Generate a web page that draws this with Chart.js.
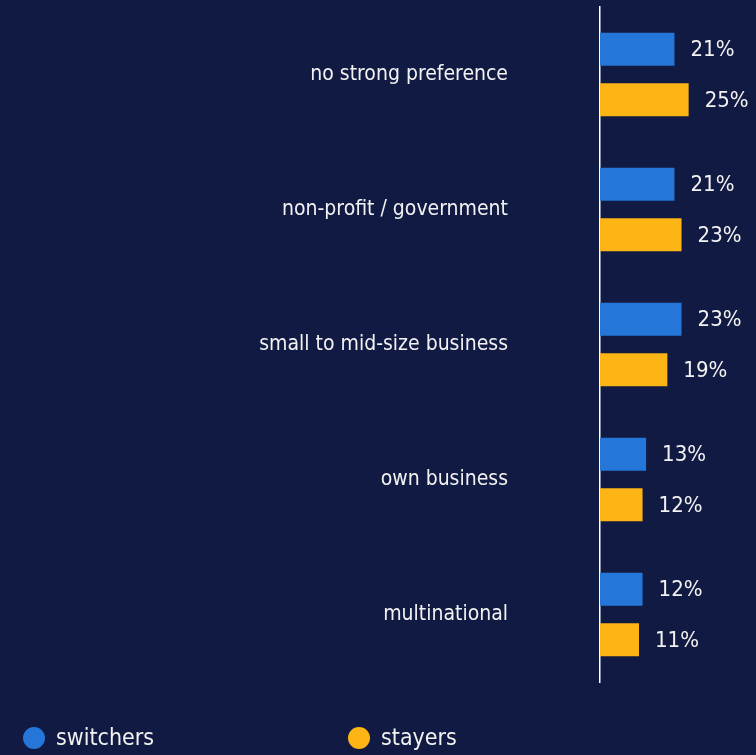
<!DOCTYPE html>
<html>
<head>
<meta charset="utf-8">
<script src="https://cdn.jsdelivr.net/npm/chart.js@4/dist/chart.umd.min.js"></script>
<style>
  html, body { margin: 0; padding: 0; background: #111a42; }
  #wrap { position: relative; width: 756px; height: 755px; }
</style>
</head>
<body>
<div id="wrap"><canvas id="chart"></canvas></div>
<script>
// Preferred employer type, share of respondents (%)
const categories = [
  'no strong preference',
  'non-profit / government',
  'small to mid-size business',
  'own business',
  'multinational'
];
const switchers = [21, 21, 23, 13, 12];
const stayers = [25, 23, 19, 12, 11];
const seriesNames = ['switchers', 'stayers'];
const seriesColors = ['#2477d9', '#fdb515'];

const FONT = '"DejaVu Sans Condensed", "DejaVu Sans", sans-serif';
const TEXT = '#f2f2f2';

// Percent labels at the end of each bar
const valueLabels = {
  id: 'valueLabels',
  afterDatasetsDraw(chart) {
    const ctx = chart.ctx;
    ctx.save();
    ctx.fillStyle = TEXT;
    ctx.font = '22px ' + FONT;
    ctx.textAlign = 'left';
    ctx.textBaseline = 'middle';
    chart.data.datasets.forEach((ds, i) => {
      chart.getDatasetMeta(i).data.forEach((bar, j) => {
        ctx.fillText(ds.data[j] + '%', bar.x + 16, bar.y + 1);
      });
    });
    ctx.restore();
  }
};

// Legend row along the bottom edge
const bottomLegend = {
  id: 'bottomLegend',
  afterDraw(chart) {
    const ctx = chart.ctx;
    const y = 739;
    const starts = [23, 348];
    ctx.save();
    ctx.font = '23px ' + FONT;
    ctx.textBaseline = 'middle';
    ctx.textAlign = 'left';
    chart.data.datasets.forEach((ds, i) => {
      const x = starts[i];
      ctx.fillStyle = ds.backgroundColor;
      ctx.beginPath();
      ctx.arc(x + 11, y - 1, 11, 0, Math.PI * 2);
      ctx.fill();
      ctx.fillStyle = TEXT;
      ctx.fillText(ds.label, x + 33, y);
    });
    ctx.restore();
  }
};

new Chart(document.getElementById('chart'), {
  type: 'bar',
  data: {
    labels: categories,
    datasets: [
      { label: seriesNames[0], data: switchers, backgroundColor: seriesColors[0] },
      { label: seriesNames[1], data: stayers, backgroundColor: seriesColors[1] }
    ]
  },
  options: {
    indexAxis: 'y',
    responsive: true,
    maintainAspectRatio: false,
    animation: false,
    categoryPercentage: 0.75,
    barPercentage: 0.65,
    layout: { padding: { top: 7, bottom: 73, right: 0, left: 0 } },
    plugins: {
      legend: { display: false },
      tooltip: { enabled: false }
    },
    scales: {
      x: {
        display: false,
        min: 0,
        max: 44
      },
      y: {
        grid: { display: false, drawTicks: false },
        border: { display: true, color: '#ffffff', width: 1.5 },
        ticks: {
          color: TEXT,
          padding: 92,
          font: { family: FONT, size: 21 }
        },
        afterFit(scale) {
          // fixed label column; tick padding should not shrink the plot vertically
          scale.width = 600;
          scale.paddingTop = 0;
          scale.paddingBottom = 0;
        }
      }
    }
  },
  plugins: [valueLabels, bottomLegend]
});
</script>
</body>
</html>
